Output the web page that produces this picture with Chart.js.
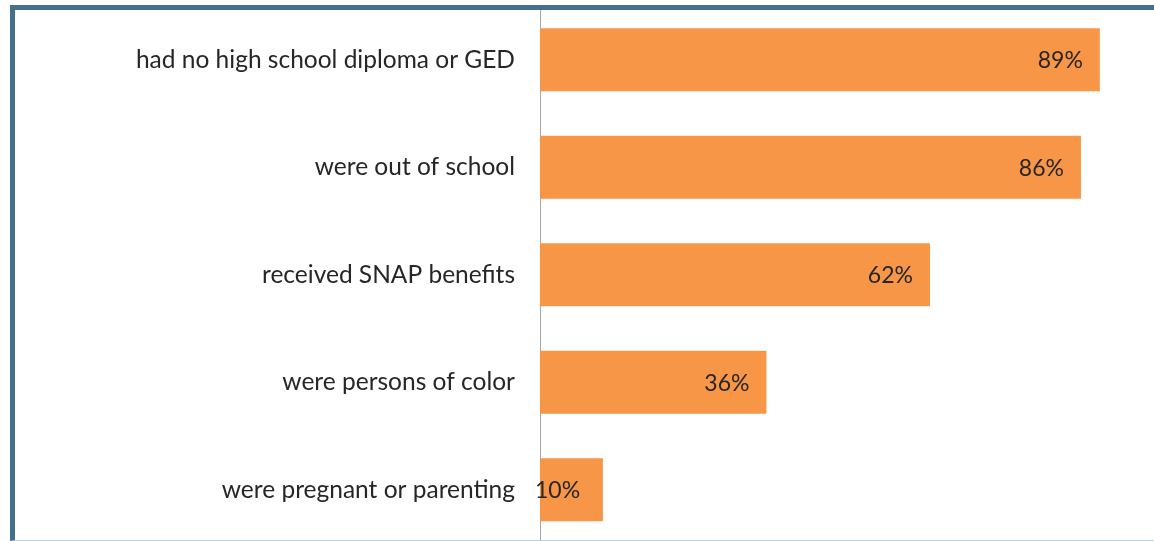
<!DOCTYPE html>
<html lang="en">
<head>
    <meta charset="UTF-8">
    <title>Youth characteristics</title>
    <script src="https://cdn.jsdelivr.net/npm/chart.js"></script>
    <style>
        body, html {
            margin: 0;
            padding: 0;
            width: 1154px;
            height: 541px;
            overflow: hidden;
            background: #fff;
        }

        .frame {
            position: absolute;
            left: 10px;
            top: 5px;
            width: 1200px;
            height: 530px;
            border-left: 5px solid #41718f;
            border-top: 5px solid #41718f;
            border-bottom: 1px solid #bccfdb;
            z-index: 2;
        }

        #barChart {
            position: absolute;
            left: 0;
            top: 0;
            z-index: 1;
        }
    </style>
</head>
<body>

    <div class="frame"></div>
    <canvas id="barChart" width="1169" height="550"></canvas>

    <script>
        var categories = [
            'had no high school diploma or GED',
            'were out of school',
            'received SNAP benefits',
            'were persons of color',
            'were pregnant or parenting'
        ];
        var percentValues = [89, 86, 62, 36, 10];

        var fontFamily = 'Lato, "Open Sans", sans-serif';
        var textColor = '#262626';

        // подписи значений внутри конца столбца
        var valueLabels = {
            id: 'valueLabels',
            afterDatasetsDraw: function (chart) {
                var ctx = chart.ctx;
                var meta = chart.getDatasetMeta(0);
                var x0 = chart.scales.x.getPixelForValue(0);
                ctx.save();
                ctx.font = '23px ' + fontFamily;
                ctx.fillStyle = textColor;
                ctx.textAlign = 'right';
                ctx.textBaseline = 'middle';
                meta.data.forEach(function (bar, i) {
                    var text = percentValues[i] + '%';
                    var w = ctx.measureText(text).width;
                    // если не помещается — сдвигаем к началу столбца
                    var right = Math.min(bar.x - 17, Math.max(bar.x - 17, x0 - 5 + w));
                    if (bar.x - x0 < w + 30) {
                        right = x0 - 5 + w;
                    }
                    ctx.fillText(text, right, bar.y + 1);
                });
                ctx.restore();
            }
        };

        var chart = new Chart(document.getElementById('barChart'), {
            type: 'bar',
            data: {
                labels: categories,
                datasets: [{
                    data: percentValues,
                    backgroundColor: '#f79646',
                    borderWidth: 0,
                    barPercentage: 0.586,
                    categoryPercentage: 1
                }]
            },
            options: {
                indexAxis: 'y',
                responsive: false,
                animation: false,
                layout: {
                    padding: { top: 6, bottom: 6.5, left: 0, right: 0 }
                },
                plugins: {
                    legend: { display: false },
                    tooltip: { enabled: false }
                },
                scales: {
                    x: {
                        display: false,
                        min: 0,
                        max: 100
                    },
                    y: {
                        grid: { display: false, drawTicks: false },
                        border: { display: true, color: '#a6a6a6', width: 1 },
                        ticks: {
                            padding: 25,
                            color: textColor,
                            font: { family: fontFamily, size: 24.5 }
                        },
                        afterFit: function (scale) {
                            scale.width = 540;
                            scale.paddingTop = 0;
                            scale.paddingBottom = 0;
                        }
                    }
                }
            },
            plugins: [valueLabels]
        });
    </script>
</body>
</html>
